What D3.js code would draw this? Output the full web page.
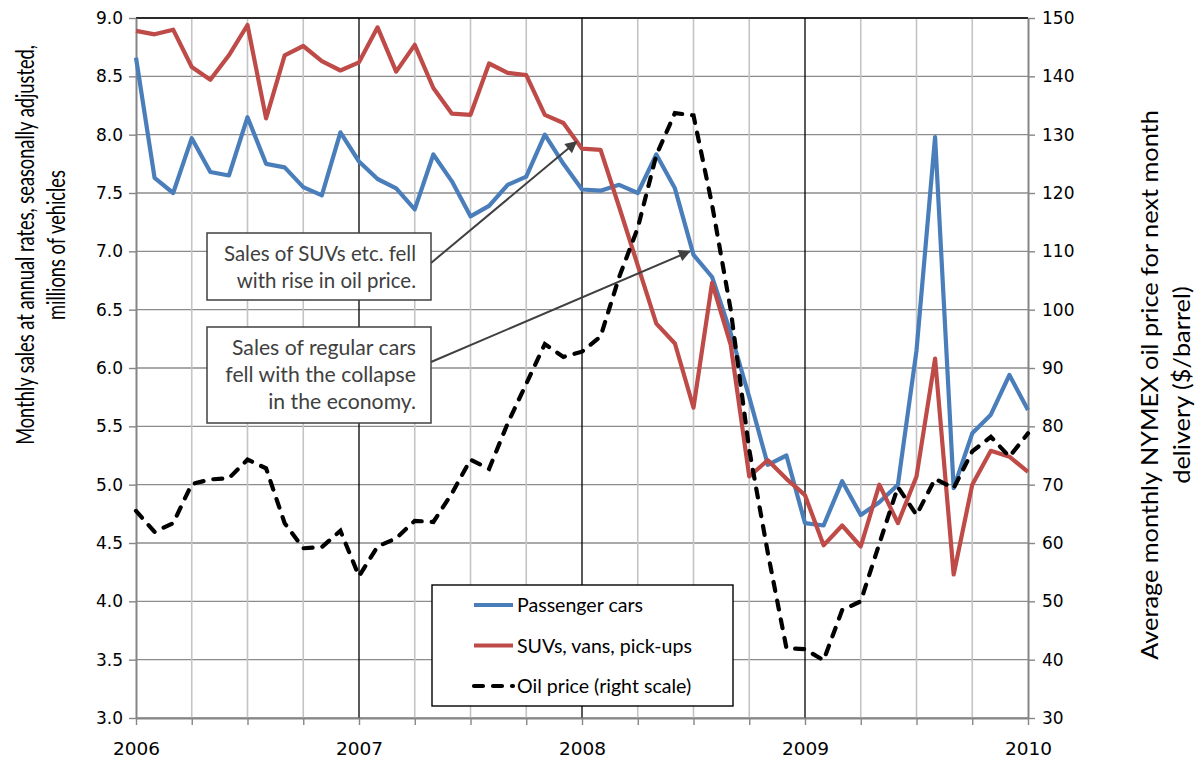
<!DOCTYPE html>
<html>
<head>
<meta charset="utf-8">
<script src="https://cdn.jsdelivr.net/npm/d3@7/dist/d3.min.js"></script>
<style>
  html, body { margin: 0; padding: 0; background: #fff; }
  svg { display: block; }
</style>
</head>
<body>
<svg id="chart" width="1197" height="764"></svg>
<script>
// monthly points, Jan 2006 .. Jan 2010 (49 values)
const YEARS = [2006, 2007, 2008, 2009, 2010];
const LEFT_TICKS = [3.0, 3.5, 4.0, 4.5, 5.0, 5.5, 6.0, 6.5, 7.0, 7.5, 8.0, 8.5, 9.0];
const RIGHT_TICKS = [30, 40, 50, 60, 70, 80, 90, 100, 110, 120, 130, 140, 150];

const PASSENGER = [
  8.66, 7.63, 7.50, 7.97, 7.68, 7.65, 8.15, 7.75, 7.72, 7.55, 7.48, 8.02,
  7.77, 7.62, 7.54, 7.36, 7.83, 7.60, 7.30, 7.39, 7.57, 7.64, 8.00, 7.75,
  7.53, 7.52, 7.57, 7.50, 7.83, 7.54, 6.97, 6.78, 6.30, 5.75, 5.17, 5.25,
  4.67, 4.65, 5.03, 4.74, 4.85, 5.00, 6.15, 7.98, 4.97, 5.44, 5.60, 5.94,
  5.64
];
const SUVS = [
  8.89, 8.86, 8.90, 8.58, 8.47, 8.68, 8.94, 8.14, 8.68, 8.76, 8.63, 8.55,
  8.62, 8.92, 8.54, 8.77, 8.40, 8.18, 8.17, 8.61, 8.53, 8.51, 8.17, 8.10,
  7.88, 7.87, 7.38, 6.88, 6.38, 6.21, 5.66, 6.73, 6.20, 5.07, 5.21, 5.05,
  4.91, 4.48, 4.65, 4.47, 5.00, 4.67, 5.07, 6.08, 4.23, 5.00, 5.29, 5.24,
  5.11
];
const OIL = [
  65.5, 61.9, 63.4, 70.1, 70.9, 71.1, 74.3, 72.8, 63.4, 59.1, 59.3, 62.1,
  54.3, 59.4, 60.8, 63.8, 63.6, 68.5, 74.3, 72.7, 80.5, 87.3, 94.1, 91.9,
  92.8, 95.4, 105.6, 114.0, 126.5, 133.7, 133.3, 118.0, 100.0, 76.0, 58.3, 42.0,
  41.8, 39.9, 48.5, 50.0, 59.9, 69.6, 64.8, 71.0, 69.4, 75.7, 78.2, 74.8,
  78.8
];
const SERIES_NAMES = ["Passenger cars", "SUVs, vans, pick-ups", "Oil price (right scale)"];
const NOTE_SUV = ["Sales of SUVs etc. fell", "with rise in oil price."];
const NOTE_CARS = ["Sales of regular cars", "fell with the collapse", "in the economy."];
const LEFT_TITLE = ["Monthly sales at annual rates, seasonally adjusted,", "millions of vehicles"];
const RIGHT_TITLE = ["Average monthly NYMEX oil price for next month", "delivery ($/barrel)"];

const BLUE = "#4A7EBB", RED = "#BE4B48", INK = "#404040";
const SANS = "Lato, 'Open Sans', sans-serif";
const TICKF = "'DejaVu Sans', Verdana, sans-serif";

const svg = d3.select("#chart");
const m = { t: 18, r: 169, b: 46, l: 136 };
const W = 1197, H = 764;

const x = d3.scaleLinear().domain([0, 48]).range([m.l, W - m.r]);
const yL = d3.scaleLinear().domain([3, 9]).range([H - m.b, m.t]);
const yR = d3.scaleLinear().domain([30, 150]).range([H - m.b, m.t]);

// squeeze a text to a width, returns the factor used
function fitTo(sel, w) {
  const n = sel.node().getComputedTextLength();
  sel.attr("textLength", w).attr("lengthAdjust", "spacingAndGlyphs");
  return w / n;
}
function scaleBy(sel, f) {
  const n = sel.node().getComputedTextLength();
  sel.attr("textLength", n * f).attr("lengthAdjust", "spacingAndGlyphs");
}

// grid
const grid = svg.append("g");
grid.selectAll("line.h").data(LEFT_TICKS).join("line")
  .attr("x1", x(0)).attr("x2", x(48)).attr("y1", d => yL(d)).attr("y2", d => yL(d))
  .attr("stroke", "#8C8C8C").attr("stroke-width", 1.4);
grid.selectAll("line.q").data(d3.range(3, 48, 3).filter(i => i % 12)).join("line")
  .attr("x1", d => x(d)).attr("x2", d => x(d)).attr("y1", yL(9)).attr("y2", yL(3))
  .attr("stroke", "#C4C4C4").attr("stroke-width", 1.6);
grid.selectAll("line.yr").data([12, 24, 36]).join("line")
  .attr("x1", d => x(d)).attr("x2", d => x(d)).attr("y1", yL(9)).attr("y2", yL(3))
  .attr("stroke", "#000").attr("stroke-width", 1.3);
grid.append("line").attr("x1", x(0)).attr("x2", x(48)).attr("y1", yL(9)).attr("y2", yL(9))
  .attr("stroke", "#000").attr("stroke-width", 1.3);

// axes
const gx = svg.append("g").attr("transform", `translate(0,${H - m.b})`)
  .call(d3.axisBottom(x).tickValues(d3.range(0, 49, 3)).tickSize(7).tickSizeOuter(0).tickPadding(17)
    .tickFormat(i => i % 12 === 0 ? YEARS[i / 12] : ""));
const gl = svg.append("g").attr("transform", `translate(${m.l},0)`)
  .call(d3.axisLeft(yL).tickValues(LEFT_TICKS).tickSize(7).tickSizeOuter(0).tickPadding(6)
    .tickFormat(d3.format(".1f")));
const gr = svg.append("g").attr("transform", `translate(${W - m.r},0)`)
  .call(d3.axisRight(yR).tickValues(RIGHT_TICKS).tickSize(7).tickSizeOuter(0).tickPadding(7));
[gx, gl, gr].forEach(g => {
  g.attr("font-family", TICKF).attr("color", "#868686");
  g.selectAll("path.domain").attr("stroke-width", 2);
  g.selectAll(".tick line").attr("stroke-width", 1.4);
  g.selectAll(".tick text").attr("fill", "#000");
});
gx.attr("font-size", 18.5);
gl.attr("font-size", 17);
gr.attr("font-size", 17);

// axis titles: rotated, squeezed along the reading direction with a scale
function vtitle(lines, xs, cy, firstLen, size) {
  let f = 1;
  lines.forEach((s, i) => {
    const t = svg.append("text")
      .attr("text-anchor", "middle").attr("font-family", SANS).attr("font-size", size)
      .attr("fill", "#000").text(s);
    if (i === 0) f = firstLen / t.node().getComputedTextLength();
    t.attr("transform", `translate(${xs[i]},${cy}) rotate(-90) scale(${f},1)`);
  });
}
vtitle(LEFT_TITLE, [34, 65], 245, 400, 25);
vtitle(RIGHT_TITLE, [1158, 1190], 385, 550, 23);

// series
const line = sc => d3.line().x((d, i) => x(i)).y(d => sc(d));
svg.append("path").datum(PASSENGER).attr("d", line(yL))
  .attr("fill", "none").attr("stroke", BLUE).attr("stroke-width", 4.2).attr("stroke-linejoin", "round");
svg.append("path").datum(SUVS).attr("d", line(yL))
  .attr("fill", "none").attr("stroke", RED).attr("stroke-width", 4.2).attr("stroke-linejoin", "round");
svg.append("path").datum(OIL).attr("d", line(yR))
  .attr("fill", "none").attr("stroke", "#000").attr("stroke-width", 4.2)
  .attr("stroke-linecap", "round").attr("stroke-dasharray", "9 10");

// annotations
svg.append("defs").append("marker").attr("id", "ah")
  .attr("viewBox", "0 0 10 10").attr("refX", 9).attr("refY", 5)
  .attr("markerWidth", 7).attr("markerHeight", 6).attr("markerUnits", "strokeWidth")
  .attr("orient", "auto")
  .append("path").attr("d", "M0,0L10,5L0,10z").attr("fill", INK);

function note(lines, box, from, tip) {
  const g = svg.append("g");
  g.append("line").attr("x1", from[0]).attr("y1", from[1]).attr("x2", tip[0]).attr("y2", tip[1])
    .attr("stroke", INK).attr("stroke-width", 2).attr("marker-end", "url(#ah)");
  g.append("rect").attr("x", box.x).attr("y", box.y).attr("width", box.w).attr("height", box.h)
    .attr("fill", "#fff").attr("stroke", INK).attr("stroke-width", 1.5);
  let f = 1;
  lines.forEach((s, i) => {
    const t = g.append("text").attr("x", box.x + box.w - 15).attr("y", box.y + 28 + i * 27)
      .attr("text-anchor", "end").attr("font-family", SANS).attr("font-size", 22)
      .attr("fill", INK).text(s);
    if (i === 0) f = fitTo(t, box.fit); else scaleBy(t, f);
  });
}
note(NOTE_SUV, { x: 207, y: 233, w: 224, h: 67, fit: 192 }, [431, 263], [x(23.7), yL(7.94)]);
note(NOTE_CARS, { x: 207, y: 327, w: 224, h: 96, fit: 184 }, [431, 362], [x(29.8), yL(7.0)]);

// legend
const lg = svg.append("g");
lg.append("rect").attr("x", 432).attr("y", 585).attr("width", 301).attr("height", 121)
  .attr("fill", "#fff").attr("stroke", "#000").attr("stroke-width", 1.4);
const styles = [
  { c: BLUE, dash: null }, { c: RED, dash: null }, { c: "#000", dash: "9 10" }
];
let lf = 1;
SERIES_NAMES.forEach((s, i) => {
  const yy = 605 + i * 40.5;
  const l = lg.append("line").attr("x1", 474).attr("x2", 513).attr("y1", yy).attr("y2", yy)
    .attr("stroke", styles[i].c).attr("stroke-width", 4.2);
  if (styles[i].dash) l.attr("stroke-dasharray", styles[i].dash).attr("stroke-linecap", "round");
  const t = lg.append("text").attr("x", 517).attr("y", yy + 7)
    .attr("font-family", SANS).attr("font-size", 20).attr("fill", "#000").text(s);
  if (i === 0) lf = fitTo(t, 126); else scaleBy(t, lf);
});
</script>
</body>
</html>
